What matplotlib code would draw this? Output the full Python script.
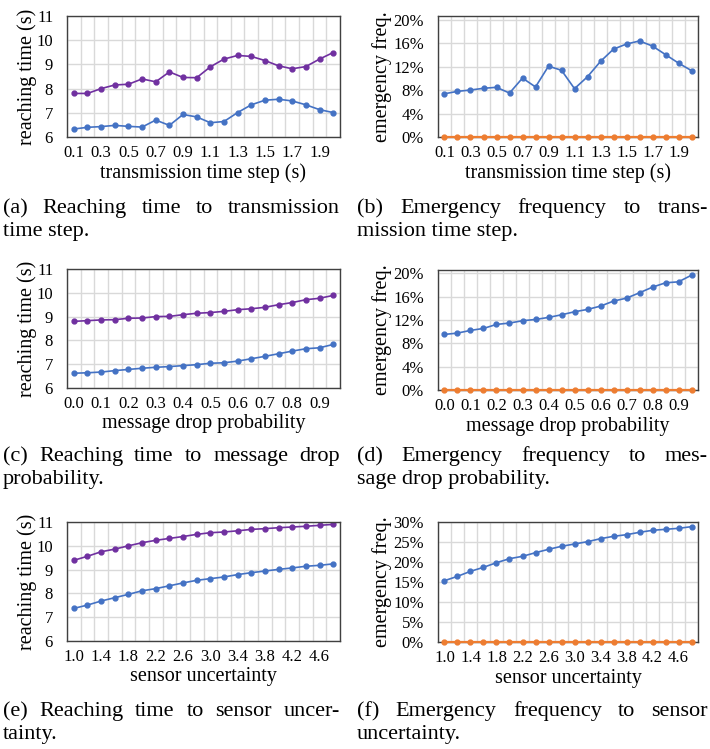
import numpy as np
import matplotlib
matplotlib.use('Agg')
import matplotlib.pyplot as plt
from matplotlib.ticker import FixedLocator, FuncFormatter

plt.rcParams['font.family'] = ['Liberation Serif', 'DejaVu Serif']

# x categories
trans_step = [0.1, 0.2, 0.3, 0.4, 0.5, 0.6, 0.7, 0.8, 0.9, 1.0,
				1.1, 1.2, 1.3, 1.4, 1.5, 1.6, 1.7, 1.8, 1.9, 2.0]
drop_prob = [0.0, 0.05, 0.1, 0.15, 0.2, 0.25, 0.3, 0.35, 0.4, 0.45,
				0.5, 0.55, 0.6, 0.65, 0.7, 0.75, 0.8, 0.85, 0.9, 0.95]
sensor_unc = [1.0, 1.2, 1.4, 1.6, 1.8, 2.0, 2.2, 2.4, 2.6, 2.8,
				3.0, 3.2, 3.4, 3.6, 3.8, 4.0, 4.2, 4.4, 4.6, 4.8]

# reaching time (s)
reach_a_purple = [7.80, 7.80, 8.00, 8.15, 8.18, 8.40, 8.28, 8.69, 8.46, 8.45,
					8.90, 9.22, 9.37, 9.33, 9.16, 8.94, 8.82, 8.91, 9.22, 9.49]
reach_a_blue = [6.33, 6.40, 6.43, 6.48, 6.44, 6.41, 6.70, 6.48, 6.93, 6.83,
				6.59, 6.64, 7.01, 7.33, 7.52, 7.56, 7.49, 7.33, 7.13, 7.01]
reach_c_purple = [8.80, 8.83, 8.86, 8.87, 8.93, 8.94, 9.00, 9.01, 9.08, 9.14,
					9.17, 9.22, 9.29, 9.33, 9.39, 9.50, 9.59, 9.71, 9.77, 9.89]
reach_c_blue = [6.62, 6.64, 6.67, 6.73, 6.78, 6.83, 6.87, 6.90, 6.94, 6.98,
				7.04, 7.06, 7.13, 7.23, 7.33, 7.44, 7.55, 7.65, 7.69, 7.83]
reach_e_purple = [9.39, 9.56, 9.75, 9.86, 10.00, 10.13, 10.23, 10.31, 10.39, 10.48,
					10.55, 10.58, 10.63, 10.69, 10.72, 10.76, 10.79, 10.82, 10.86, 10.90]
reach_e_blue = [7.37, 7.51, 7.68, 7.82, 7.96, 8.11, 8.20, 8.32, 8.44, 8.55,
				8.62, 8.69, 8.79, 8.87, 8.94, 9.01, 9.07, 9.14, 9.18, 9.24]

# emergency frequency (%)
emerg_b_blue = [7.36, 7.77, 8.00, 8.29, 8.46, 7.48, 10.03, 8.52, 12.06, 11.36,
				8.23, 10.26, 12.87, 14.96, 15.83, 16.35, 15.48, 14.03, 12.58, 11.30]
emerg_d_blue = [9.54, 9.77, 10.23, 10.57, 11.26, 11.49, 11.89, 12.11, 12.46, 12.91,
				13.43, 13.83, 14.40, 15.26, 15.77, 16.69, 17.66, 18.40, 18.57, 19.71]
emerg_f_blue = [15.33, 16.42, 17.67, 18.67, 19.83, 20.83, 21.42, 22.33, 23.17, 23.92,
				24.50, 25.08, 25.83, 26.42, 26.83, 27.42, 27.92, 28.17, 28.42, 28.83]
emerg_orange = [0, 0, 0, 0, 0, 0, 0, 0, 0, 0,
				0, 0, 0, 0, 0, 0, 0, 0, 0, 0]

captions = {
	'a': ['(a) Reaching time to transmission', 'time step.'],
	'b': ['(b) Emergency frequency to trans-', 'mission time step.'],
	'c': ['(c) Reaching time to message drop', 'probability.'],
	'd': ['(d) Emergency frequency to mes-', 'sage drop probability.'],
	'e': ['(e) Reaching time to sensor uncer-', 'tainty.'],
	'f': ['(f) Emergency frequency to sensor', 'uncertainty.'],
}

PURPLE = '#7030A0'
BLUE = '#4472C4'
ORANGE = '#ED7D31'
GRID = '#D9D9D9'
W, H = 710, 749

fig = plt.figure(figsize=(W/100, H/100), dpi=100)

def make_ax(l, t, r, b):
	return fig.add_axes([l/W, 1-b/H, (r-l)/W, (b-t)/H])

def style_ax(ax, x, step, label_every, xlabel, ylabel, ylab_x):
	ax.set_xlim(x[0]-step/2, x[-1]+step/2)
	ax.xaxis.set_major_locator(FixedLocator(x[::label_every]))
	ax.xaxis.set_major_formatter(FuncFormatter(lambda v, p: '%.1f' % v))
	# category borders, like a spreadsheet chart
	edges = [x[0]-step/2 + step*k for k in range(len(x)+1)]
	ax.xaxis.set_minor_locator(FixedLocator(edges))
	ax.grid(which='minor', axis='x', color=GRID, lw=1)
	ax.grid(which='major', axis='y', color=GRID, lw=1)
	ax.set_axisbelow(True)
	ax.tick_params(which='both', length=0, labelsize=12)
	ax.tick_params(axis='y', pad=10)
	ax.tick_params(axis='x', pad=6)
	for s in ax.spines.values():
		s.set_color('#404040')
		s.set_linewidth(1)
	ax.set_xlabel(xlabel, fontsize=14.5, va='center')
	ax.xaxis.set_label_coords(0.5, -0.30)
	ax.set_ylabel(ylabel, fontsize=14.5, va='center')
	ax.yaxis.set_label_coords(ylab_x, 0.5)

def plot_reach(box, x, step, every, purple, blue, xlabel):
	ax = make_ax(*box)
	ax.plot(x, purple, color=PURPLE, marker='o', ms=3.5, lw=1.2)
	ax.plot(x, blue, color=BLUE, marker='o', ms=3.5, lw=1.2)
	ax.set_ylim(6, 11)
	ax.set_yticks([6, 7, 8, 9, 10, 11])
	style_ax(ax, x, step, every, xlabel, 'reaching time (s)', -0.147)
	return ax

def plot_emerg(box, x, step, every, blue, orange, xlabel, ytop, yticks):
	ax = make_ax(*box)
	ax.plot(x, blue, color=BLUE, marker='o', ms=3.5, lw=1.2)
	ax.plot(x, orange, color=ORANGE, marker='o', ms=3.5, lw=1.6, clip_on=False, zorder=5)
	ax.set_ylim(0, ytop)
	ax.set_yticks(yticks)
	ax.yaxis.set_major_formatter(FuncFormatter(lambda v, p: '%d%%' % v))
	style_ax(ax, x, step, every, xlabel, 'emergency freq.', -0.215)
	return ax

def justify(line, x0, x1, y, size):
	r = fig.canvas.get_renderer()
	words = line.split(' ')
	ts = [fig.text(0, y/H, w, fontsize=size, va='baseline') for w in words]
	ws = [t.get_window_extent(r).width for t in ts]
	gap = ((x1-x0) - sum(ws)) / (len(words)-1)
	xx = x0
	for t, w in zip(ts, ws):
		t.set_x(xx/W)
		xx += w + gap

def caption(key, x0, x1, y):
	l1, l2 = captions[key]
	justify(l1, x0, x1, H-y, 16)
	fig.text(x0/W, (H-y-23)/H, l2, fontsize=16, va='baseline')

plot_reach((67, 16, 340, 137), trans_step, 0.1, 2, reach_a_purple, reach_a_blue, 'transmission time step (s)')
plot_emerg((438, 16, 698, 137), trans_step, 0.1, 2, emerg_b_blue, emerg_orange, 'transmission time step (s)', 20.6, [0, 4, 8, 12, 16, 20])
plot_reach((67, 269, 340, 388), drop_prob, 0.05, 2, reach_c_purple, reach_c_blue, 'message drop probability')
plot_emerg((438, 270, 698, 390), drop_prob, 0.05, 2, emerg_d_blue, emerg_orange, 'message drop probability', 20.6, [0, 4, 8, 12, 16, 20])
plot_reach((67, 522, 340, 641), sensor_unc, 0.2, 2, reach_e_purple, reach_e_blue, 'sensor uncertainty')
plot_emerg((438, 522, 698, 642), sensor_unc, 0.2, 2, emerg_f_blue, emerg_orange, 'sensor uncertainty', 30, [0, 5, 10, 15, 20, 25, 30])

caption('a', 3, 340, 213)
caption('b', 357, 708, 213)
caption('c', 3, 340, 461)
caption('d', 357, 708, 461)
caption('e', 3, 340, 716)
caption('f', 357, 708, 716)

fig.savefig('out.png', dpi=100)
